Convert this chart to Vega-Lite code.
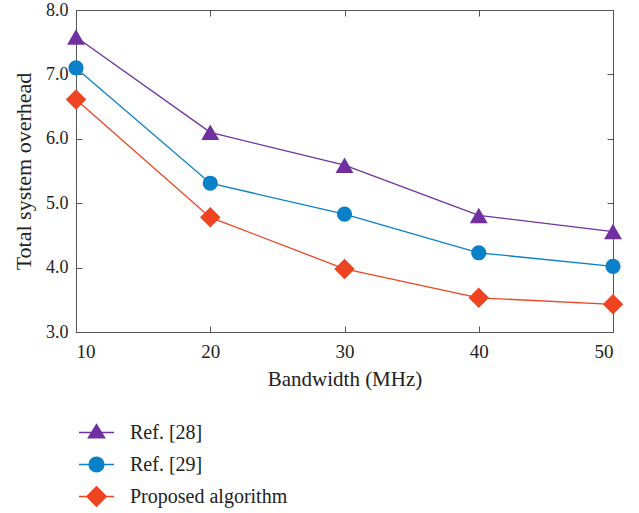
{
  "$schema": "https://vega.github.io/schema/vega-lite/v6.json",
  "width": 537,
  "height": 322,
  "autosize": {"type": "none"},
  "padding": {"left": 76, "top": 10, "right": 26, "bottom": 181},
  "background": "white",
  "config": {
    "view": {"stroke": "#555555", "strokeWidth": 1},
    "font": "Liberation Serif",
    "axis": {
      "labelFont": "Liberation Serif",
      "titleFont": "Liberation Serif",
      "labelFontSize": 19,
      "titleFontSize": 21,
      "titleFontWeight": "normal",
      "labelColor": "#222222",
      "titleColor": "#222222",
      "domainColor": "#555555",
      "tickColor": "#555555",
      "grid": false,
      "tickSize": -6
    },
    "legend": {
      "labelFont": "Liberation Serif",
      "labelFontSize": 20,
      "labelColor": "#222222"
    }
  },
  "data": {
    "values": [
      {"bandwidth": 10, "overhead": 7.58, "series": "Ref. [28]"},
      {"bandwidth": 20, "overhead": 6.1, "series": "Ref. [28]"},
      {"bandwidth": 30, "overhead": 5.59, "series": "Ref. [28]"},
      {"bandwidth": 40, "overhead": 4.81, "series": "Ref. [28]"},
      {"bandwidth": 50, "overhead": 4.56, "series": "Ref. [28]"},
      {"bandwidth": 10, "overhead": 7.1, "series": "Ref. [29]"},
      {"bandwidth": 20, "overhead": 5.31, "series": "Ref. [29]"},
      {"bandwidth": 30, "overhead": 4.83, "series": "Ref. [29]"},
      {"bandwidth": 40, "overhead": 4.23, "series": "Ref. [29]"},
      {"bandwidth": 50, "overhead": 4.02, "series": "Ref. [29]"},
      {"bandwidth": 10, "overhead": 6.61, "series": "Proposed algorithm"},
      {"bandwidth": 20, "overhead": 4.78, "series": "Proposed algorithm"},
      {"bandwidth": 30, "overhead": 3.98, "series": "Proposed algorithm"},
      {"bandwidth": 40, "overhead": 3.53, "series": "Proposed algorithm"},
      {"bandwidth": 50, "overhead": 3.43, "series": "Proposed algorithm"}
    ]
  },
  "encoding": {
    "color": {
      "field": "series", "type": "nominal",
      "scale": {"domain": ["Ref. [28]", "Ref. [29]", "Proposed algorithm"], "range": ["#7030A0", "#0A80C8", "#EE4422"]}
    }
  },
  "layer": [
    {
      "mark": {"type": "line", "strokeWidth": 1.3},
      "encoding": {
        "x": {
          "field": "bandwidth", "type": "quantitative",
          "scale": {"domain": [10, 50], "nice": false, "zero": false},
          "axis": {"orient": "bottom", "values": [10, 20, 30, 40, 50], "title": "Bandwidth (MHz)", "labelPadding": 16, "titlePadding": 7}
        },
        "y": {
          "field": "overhead", "type": "quantitative",
          "scale": {"domain": [3, 8], "nice": false, "zero": false},
          "axis": {"orient": "left", "values": [3, 4, 5, 6, 7, 8], "format": ".1f", "labelFontSize": 18, "title": "Total system overhead", "titleFontSize": 22, "labelPadding": 14, "titlePadding": 10}
        },
        "color": {
          "field": "series", "type": "nominal",
          "legend": {
            "title": null,
            "orient": "none",
            "legendX": 2,
            "legendY": 404,
            "symbolSize": 1225,
            "rowPadding": 3,
            "labelOffset": 15,
            "symbolStrokeWidth": 1.5,
            "encode": {
              "symbols": {
                "update": {
                  "fill": {"scale": "color", "field": "value"},
                  "stroke": {"scale": "color", "field": "value"},
                  "strokeWidth": {"value": 1.5},
                  "opacity": {"value": 1},
                  "fillOpacity": {"value": 1},
                  "size": {"value": 1225},
                  "shape": {"signal": "datum.value === 'Ref. [28]' ? 'M-1,0L1,0M0,-0.45L0.46,0.3L-0.46,0.3Z' : (datum.value === 'Ref. [29]' ? 'M-1,0L1,0M0.42,0A0.42,0.42,0,1,1,-0.42,0A0.42,0.42,0,1,1,0.42,0Z' : 'M-1,0L1,0M0,-0.55L0.55,0L0,0.55L-0.55,0Z')"}
                }
              }
            }
          }
        }
      }
    },
    {
      "transform": [{"filter": "datum.series === 'Ref. [28]'"}],
      "mark": {"type": "point", "filled": true, "opacity": 1, "shape": "triangle-up", "size": 320},
      "encoding": {
        "x": {
          "field": "bandwidth", "type": "quantitative",
          "axis": {"orient": "top", "values": [10, 20, 30, 40, 50], "labels": false, "title": null, "domain": false}
        },
        "y": {
          "field": "overhead", "type": "quantitative",
          "axis": {"orient": "right", "values": [3, 4, 5, 6, 7, 8], "labels": false, "title": null, "domain": false}
        }
      }
    },
    {
      "transform": [{"filter": "datum.series === 'Ref. [29]'"}],
      "mark": {"type": "point", "filled": true, "opacity": 1, "shape": "circle", "size": 230},
      "encoding": {
        "x": {"field": "bandwidth", "type": "quantitative", "axis": null},
        "y": {"field": "overhead", "type": "quantitative", "axis": null}
      }
    },
    {
      "transform": [{"filter": "datum.series === 'Proposed algorithm'"}],
      "mark": {"type": "point", "filled": true, "opacity": 1, "shape": "diamond", "size": 420},
      "encoding": {
        "x": {"field": "bandwidth", "type": "quantitative", "axis": null},
        "y": {"field": "overhead", "type": "quantitative", "axis": null}
      }
    }
  ],
  "resolve": {"axis": {"x": "independent", "y": "independent"}}
}
